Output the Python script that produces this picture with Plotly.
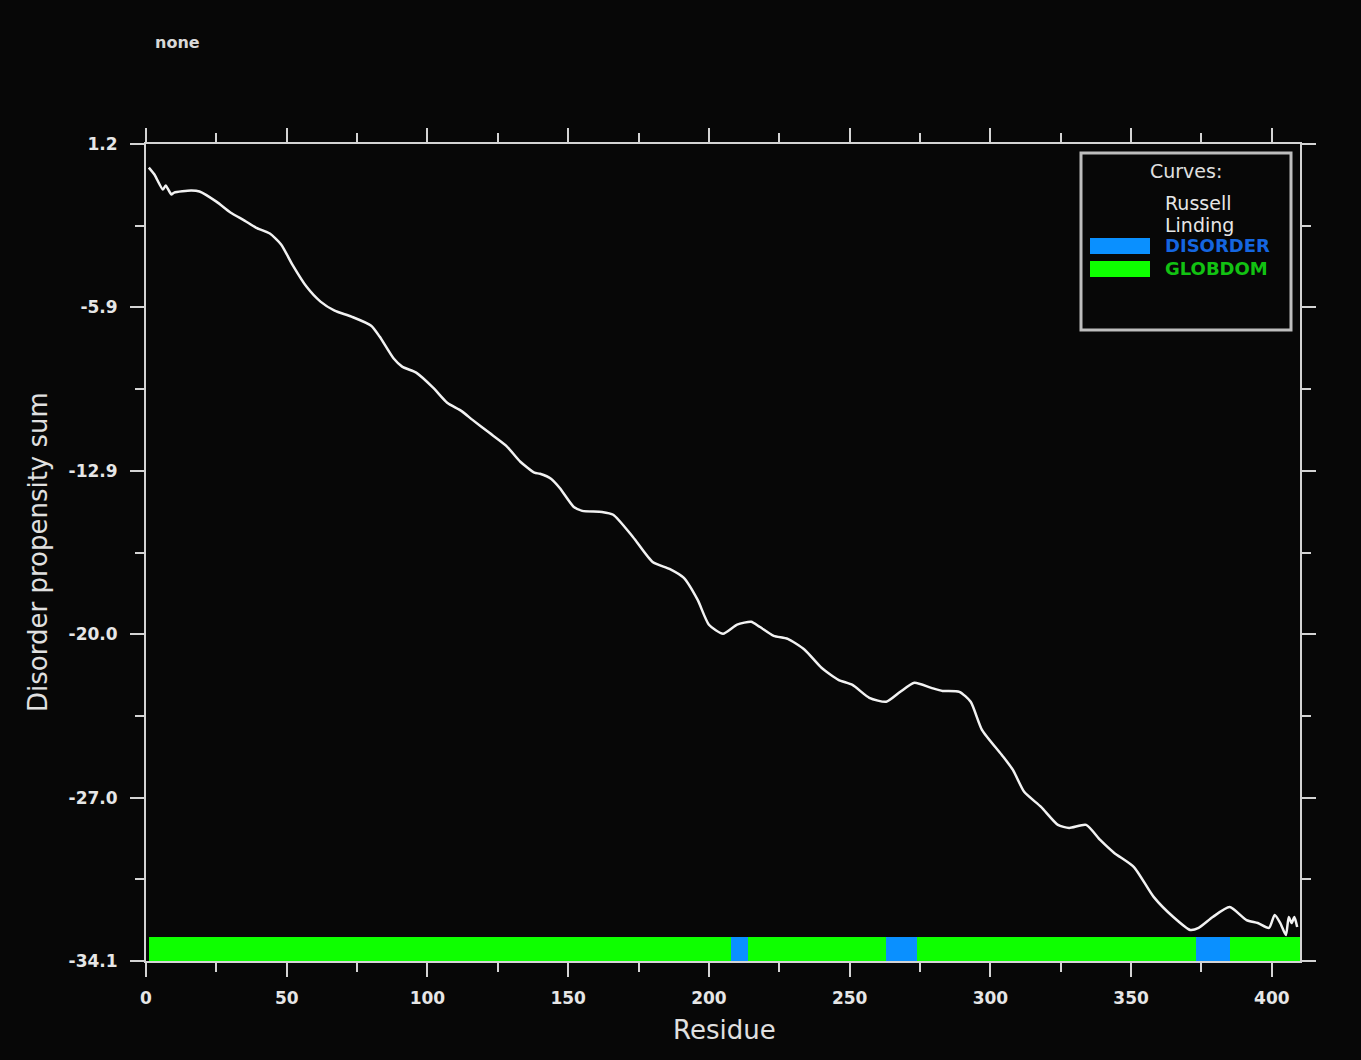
import numpy as np
import plotly.graph_objects as go

# Cumulative disorder propensity (Russell/Linding scale) along the sequence
residue = [1, 3, 6, 7, 9, 10, 16, 19, 25, 30, 35, 39, 44, 48, 52, 57, 62, 67, 73, 80,
           83, 88, 91, 96, 102, 107, 112, 116, 122, 128, 133, 138, 140, 144, 147, 152,
           155, 162, 166, 173, 180, 186, 191, 196, 200, 205, 210, 215, 218, 223, 228,
           234, 240, 246, 251, 257, 263, 268, 273, 279, 283, 289, 293, 297, 304, 308,
           312, 318, 324, 328, 334, 339, 344, 351, 358, 365, 371, 374, 379, 385, 391,
           395, 399, 401, 403, 405, 406, 407, 408, 409]
propensity = [0.18, -0.12, -0.77, -0.59, -0.98, -0.90, -0.81, -0.85, -1.29, -1.76,
              -2.11, -2.41, -2.67, -3.14, -4.01, -4.96, -5.61, -6.00, -6.26, -6.65,
              -7.12, -8.07, -8.42, -8.68, -9.33, -9.98, -10.33, -10.72, -11.28, -11.84,
              -12.53, -13.00, -13.05, -13.27, -13.66, -14.48, -14.65, -14.70, -14.82,
              -15.78, -16.86, -17.16, -17.54, -18.50, -19.57, -19.96, -19.57, -19.44,
              -19.66, -20.05, -20.18, -20.65, -21.43, -21.95, -22.17, -22.73, -22.90,
              -22.47, -22.08, -22.30, -22.43, -22.47, -22.90, -24.11, -25.19, -25.84,
              -26.79, -27.44, -28.22, -28.35, -28.22, -28.87, -29.43, -30.04, -31.33,
              -32.20, -32.76, -32.67, -32.20, -31.77, -32.33, -32.46, -32.67, -32.11,
              -32.46, -32.98, -32.20, -32.46, -32.20, -32.63]

# Predicted domains (start, end residue)
globdom_segments = [(1, 410)]
disorder_segments = [(208, 214), (263, 274), (373, 385)]

y_min, y_max = -34.1, 1.2
x_max = 410
bar_top = -33.05

GREEN = "#0EFF00"
BLUE = "#0A90FF"
AXIS = "#d4d4d4"
BG = "#070707"
FONT = "DejaVu Sans"

fig = go.Figure()

# domain strip along the bottom
fig.add_trace(go.Bar(
    orientation="h",
    y=[(y_min + bar_top) / 2] * len(globdom_segments),
    base=[s for s, e in globdom_segments],
    x=[e - s for s, e in globdom_segments],
    width=[bar_top - y_min] * len(globdom_segments),
    marker=dict(color=GREEN, line=dict(width=0)),
    showlegend=False, hoverinfo="skip",
))
fig.add_trace(go.Bar(
    orientation="h",
    y=[(y_min + bar_top) / 2] * len(disorder_segments),
    base=[s for s, e in disorder_segments],
    x=[e - s for s, e in disorder_segments],
    width=[bar_top - y_min] * len(disorder_segments),
    marker=dict(color=BLUE, line=dict(width=0)),
    showlegend=False, hoverinfo="skip",
))

fig.add_trace(go.Scatter(
    x=residue, y=propensity, mode="lines",
    line=dict(color="#f2f2f2", width=2.5, shape="spline", smoothing=0.6),
    showlegend=False,
))

y_ticks = np.linspace(y_max, y_min, 6)
y_minor = (y_ticks[:-1] + y_ticks[1:]) / 2

tickfont = dict(family=FONT, size=17, color="#e6e6e6", weight="bold")
fig.update_xaxes(
    range=[0, x_max], showgrid=False, zeroline=False,
    showline=True, linecolor=AXIS, linewidth=2, mirror="allticks",
    ticks="outside", ticklen=14, tickwidth=2, tickcolor=AXIS,
    tickmode="linear", tick0=0, dtick=50,
    minor=dict(ticks="outside", ticklen=9, tickwidth=2, tickcolor=AXIS,
               tickmode="linear", tick0=0, dtick=25),
    tickfont=tickfont, ticklabelstandoff=7,
)
fig.update_yaxes(
    range=[y_min, y_max], showgrid=False, zeroline=False,
    showline=True, linecolor=AXIS, linewidth=2, mirror="allticks",
    ticks="outside", ticklen=14, tickwidth=2, tickcolor=AXIS,
    tickmode="array", tickvals=list(y_ticks),
    ticktext=[f"{v:.1f}" for v in y_ticks],
    minor=dict(ticks="outside", ticklen=9, tickwidth=2, tickcolor=AXIS,
               tickmode="array", tickvals=list(y_minor)),
    tickfont=tickfont, ticklabelstandoff=9,
)

W, H = 1361, 1060
L, R, T, B = 146, 61, 144, 99
pw, ph = W - L - R, H - T - B


def px(x):
    return (x - L) / pw


def py(y):
    return (H - B - y) / ph


shapes = [
    # legend frame
    dict(type="rect", xref="paper", yref="paper",
         x0=px(1081), x1=px(1291), y0=py(330), y1=py(153),
         line=dict(color="#bdbdbd", width=3), fillcolor=BG),
    dict(type="rect", xref="paper", yref="paper",
         x0=px(1090), x1=px(1150), y0=py(254), y1=py(238),
         line=dict(width=0), fillcolor=BLUE),
    dict(type="rect", xref="paper", yref="paper",
         x0=px(1090), x1=px(1150), y0=py(277), y1=py(261),
         line=dict(width=0), fillcolor=GREEN),
]

annotations = [
    dict(text="Curves:", x=px(1186), y=py(171), xanchor="center", yanchor="middle",
         font=dict(family=FONT, size=19, color="#e0e0e0")),
    dict(text="Russell", x=px(1163), y=py(203), xanchor="left", yanchor="middle",
         font=dict(family=FONT, size=19, color="#e6e6e6")),
    dict(text="Linding", x=px(1163), y=py(225), xanchor="left", yanchor="middle",
         font=dict(family=FONT, size=19, color="#e6e6e6")),
    dict(text="DISORDER", x=px(1163), y=py(246), xanchor="left", yanchor="middle",
         font=dict(family=FONT, size=18, color="#1566E0", weight="bold")),
    dict(text="GLOBDOM", x=px(1163), y=py(268), xanchor="left", yanchor="middle",
         font=dict(family=FONT, size=18, color="#12C212", weight="bold")),
    dict(text="none", x=px(177), y=py(42), xanchor="center", yanchor="middle",
         font=dict(family=FONT, size=16, color="#d8d8d8", weight="bold")),
    dict(text="Residue", x=px(724), y=py(1030), xanchor="center", yanchor="middle",
         font=dict(family=FONT, size=26, color="#e0e0e0")),
    dict(text="Disorder propensity sum", x=px(38), y=py(552), textangle=-90,
         xanchor="center", yanchor="middle",
         font=dict(family=FONT, size=26, color="#e0e0e0")),
]
for a in annotations:
    a.update(xref="paper", yref="paper", showarrow=False)

fig.update_layout(
    width=W, height=H, autosize=False,
    margin=dict(l=L, r=R, t=T, b=B, pad=0),
    paper_bgcolor=BG, plot_bgcolor=BG,
    barmode="overlay", bargap=0,
    shapes=shapes, annotations=annotations,
    showlegend=False,
)

fig.write_html("out.html")
